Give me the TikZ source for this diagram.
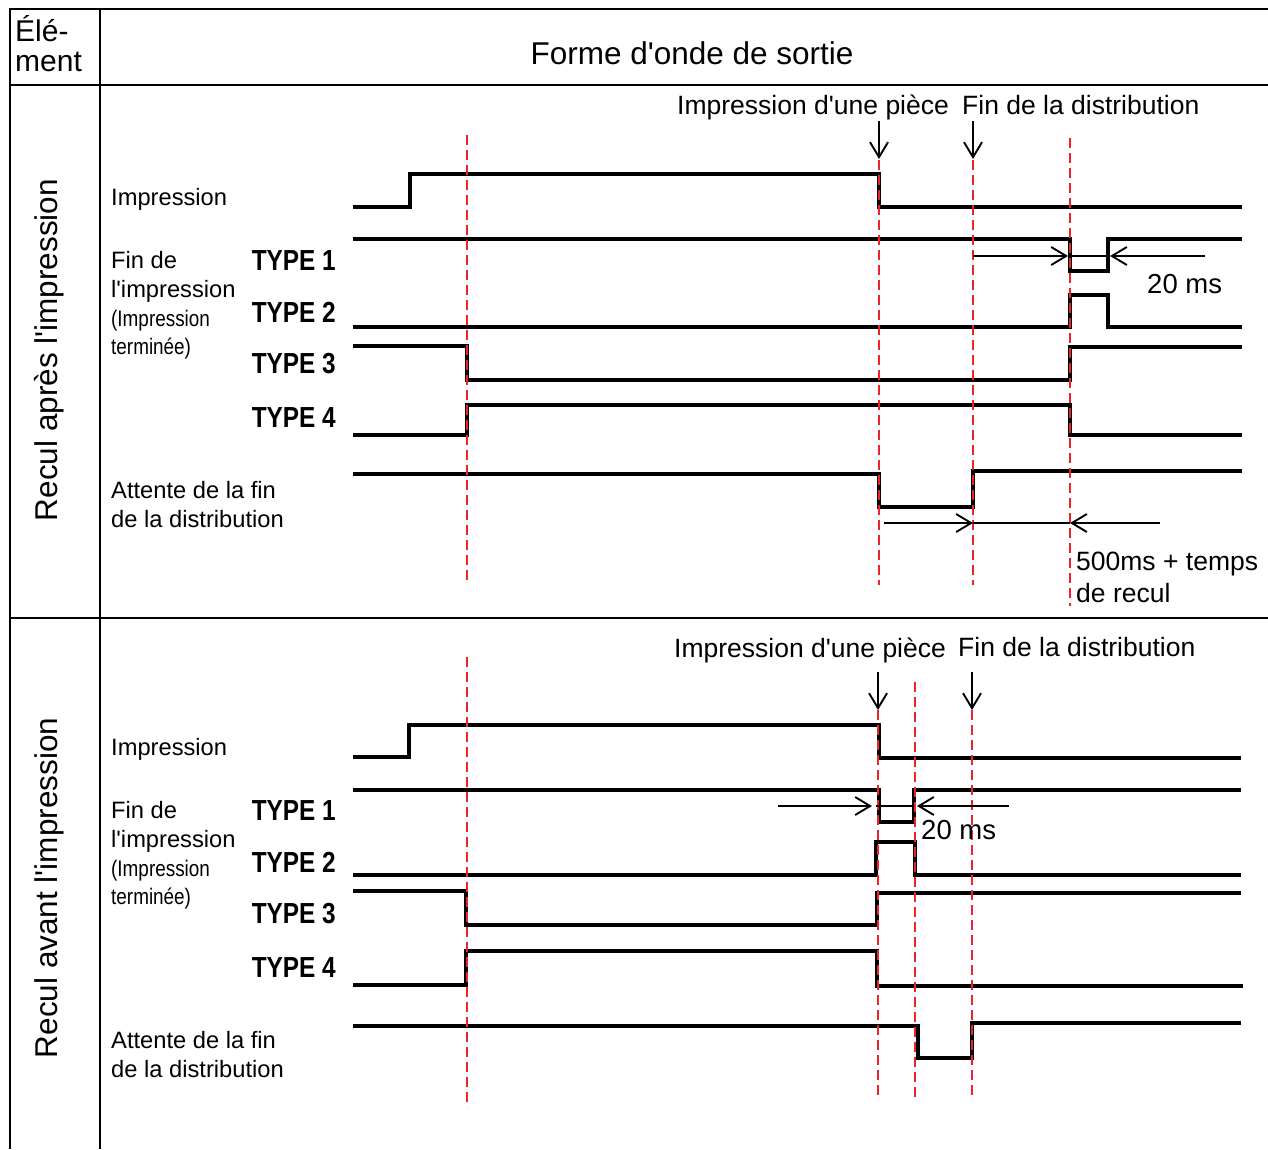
\documentclass[tikz,border=0pt]{standalone}
\usepackage{fontspec}
\setmainfont{Liberation Sans}
\newfontfamily\narrowfont[FakeStretch=0.84]{Liberation Sans}
\usetikzlibrary{arrows.meta}
\definecolor{cutred}{HTML}{EE2229}
\newcommand\apos{\textquotesingle}

\begin{document}
\begin{tikzpicture}[x=1pt,y=-1pt,>={Straight Barb[length=15pt,width=18pt]},
  sig/.style={line width=3.2pt},
  cut/.style={cutred,line width=2.5pt,dash pattern=on 10pt off 5pt},
  rule/.style={line width=1.4pt},
  pointer/.style={line width=1.9pt},
  thinbar/.style={line width=1.2pt},
  hdr/.style={inner sep=0pt,font=\fontsize{31.5}{34}\selectfont},
  lab/.style={anchor=base west,inner sep=0pt,font=\fontsize{23.7}{28}\selectfont},
  narrow/.style={anchor=base west,inner sep=0pt,font=\narrowfont\fontsize{22.5}{26}\selectfont},
  tag/.style={anchor=base east,inner sep=0pt,font=\narrowfont\bfseries\fontsize{29}{31}\selectfont},
  note/.style={anchor=base west,inner sep=0pt,font=\fontsize{26.5}{30}\selectfont}]
  \useasboundingbox (0,0) rectangle (1268,1149);
  \draw[rule] (1268,9) -| (10,1149);
  \draw[rule] (100,9) -- (100,1149);
  \foreach \y in {85,618} \draw[rule] (10,\y) -- (1268,\y);
  \node[hdr,anchor=base west,font=\fontsize{30}{32}\selectfont] (elem1) at (15,41) {Élé-};
  \node[hdr,anchor=base west,font=\fontsize{30}{32}\selectfont] (elem2) at (15,71) {ment};
  \node[hdr,anchor=base] (wave) at (692,64) {Forme d\apos onde de sortie};
  \node[hdr,rotate=90,anchor=base] (after) at (57,350) {Recul après l\apos impression};
  \node[hdr,rotate=90,anchor=base] (before) at (57,888) {Recul avant l\apos impression};
  \foreach \dy/\p in {0/a,550/b}{
    \node[lab] (\p-imp) at (111,205+\dy) {Impression};
    \node[lab] (\p-fin1) at (111,268+\dy) {Fin de};
    \node[lab] (\p-fin2) at (111,297+\dy) {l\apos impression};
    \node[narrow] (\p-fin3) at (111,326+\dy) {(Impression};
    \node[narrow] (\p-fin4) at (111,354+\dy) {terminée)};
    \node[lab] (\p-att1) at (111,498+\dy) {Attente de la fin};
    \node[lab] (\p-att2) at (111,527+\dy) {de la distribution};
    \foreach \k/\y in {1/270,2/322,3/373,4/427}
      \node[tag] (\p-type\k) at (336,\y+\dy) {TYPE \k};
  }
  \draw[sig] (353,207) -| (410,174) -| (879,207) -- (1242,207);
  \draw[sig] (353,239) -| (1070,271) -| (1108,239) -- (1242,239);
  \draw[sig] (353,327) -| (1070,295) -| (1108,327) -- (1242,327);
  \draw[sig] (353,346) -| (467,380) -| (1070,347) -- (1242,347);
  \draw[sig] (353,435) -| (467,405) -| (1070,435) -- (1242,435);
  \draw[sig] (353,474) -| (879,507) -| (973,471) -- (1242,471);
  \draw[sig] (353,757) -| (409,725) -| (879,758) -- (1241,758);
  \draw[sig] (353,790) -| (879,822) -| (914,790) -- (1241,790);
  \draw[sig] (353,875) -| (876,842) -| (915,875) -- (1241,875);
  \draw[sig] (353,891) -| (466,925) -| (877,893) -- (1241,893);
  \draw[sig] (353,985) -| (466,951) -| (877,986) -- (1243,986);
  \draw[sig] (353,1026) -| (918,1058) -| (972,1023) -- (1241,1023);
  \foreach \x/\ya/\yb in {467/135/585,879/160/585,973/160/585,1070/138/606,
                          467/657/1107,878/710/1100,915/682/1100,972/710/1100}
    \draw[cut] (\x,\ya) -- (\x,\yb);
  \node[note] (a-piece) at (677,114) {Impression d\apos une pièce};
  \node[note] (a-end) at (962,114) {Fin de la distribution};
  \node[note] (b-piece) at (674,657) {Impression d\apos une pièce};
  \node[note] (b-end) at (958,656) {Fin de la distribution};
  \foreach \x/\y in {879/121,973/121,878/672,972/672}
    \draw[pointer,->] (\x,\y) -- ++(0,38);
  \draw[pointer,->] (973,256) -- (1068,256);
  \draw[thinbar] (1070,256) -- (1108,256);
  \draw[pointer,->] (1205,256) -- (1110,256);
  \node[note,font=\fontsize{27.5}{30}\selectfont] (a-20) at (1147,293) {20 ms};
  \draw[pointer,->] (884,523) -- (973,523);
  \draw[thinbar] (973,523) -- (1070,523);
  \draw[pointer,->] (1160,523) -- (1070,523);
  \node[note] (a-500) at (1076,570) {500ms + temps};
  \node[note] (a-recul) at (1076,602) {de recul};
  \draw[pointer,->] (778,806) -- (872,806);
  \draw[thinbar] (876,806) -- (913,806);
  \draw[pointer,->] (1009,806) -- (917,806);
  \node[note,font=\fontsize{27.5}{30}\selectfont] (b-20) at (921,839) {20 ms};
\end{tikzpicture}
\end{document}
